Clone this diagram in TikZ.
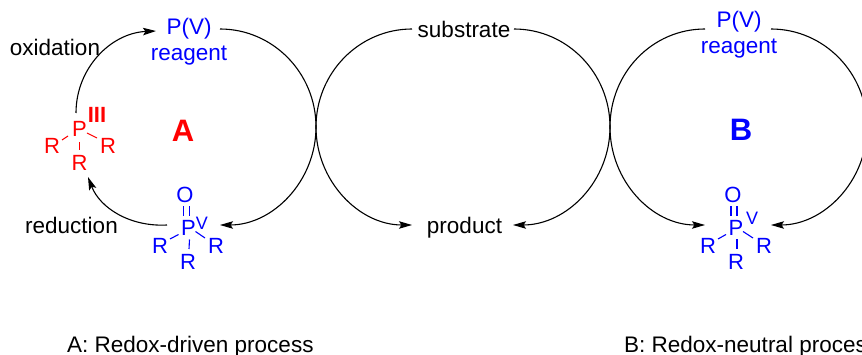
\documentclass[tikz,border=0pt]{standalone}
\usepackage{fontspec}
\setmainfont{Liberation Sans}
\usetikzlibrary{arrows.meta}
\definecolor{rblue}{RGB}{0,0,255}
\definecolor{rred}{RGB}{255,0,0}
\tikzset{
  lbl/.style={inner sep=0pt,anchor=base,font=\fontsize{22.5}{24}\selectfont},
  atom/.style={inner sep=0pt,anchor=base,font=\fontsize{22}{24}\selectfont},
  supv/.style={inner sep=0pt,anchor=base,font=\fontsize{18}{20}\selectfont},
  big/.style={inner sep=0pt,anchor=base,font=\fontsize{31}{33}\selectfont\bfseries},
  cyc/.style={line width=1.1pt,black},
  cyctip/.style={cyc,-{Stealth[length=13pt,width=7.5pt,inset=2.5pt]}},
  bond/.style={line width=1.1pt}
}
\begin{document}
\begin{tikzpicture}[x=1pt,y=-1pt]
\useasboundingbox (0,0) rectangle (862,355);
\clip (0,0) rectangle (862,355);
% Cycle A labels
\node[lbl,text=rblue] (pvA) at (189,35) {P(V)};
\node[lbl,text=rblue] (rgA) at (189,61) {reagent};
\node[lbl] (ox) at (55,56) {oxidation};
\node[lbl] (red) at (71.5,234) {reduction};
\node[big,text=rred] (lA) at (183,142) {A};
% P(III)
\node[atom,text=rred] (p3) at (79.5,137) {P};
\node[atom,text=rred] (r3l) at (52,153.5) {R};
\node[atom,text=rred] (r3r) at (108,153.5) {R};
\node[atom,text=rred] (r3b) at (79.5,170.5) {R};
\node[inner sep=0pt,anchor=base,text=rred,font=\fontsize{22}{24}\selectfont\bfseries] (iii) at (97,123) {III};
\draw[bond,rred] ([shift={(10,-13.5)}]r3l.base) -- ([shift={(-11.5,-1)}]p3.base);
\draw[bond,rred] ([shift={(7.5,-4)}]p3.base) -- ([shift={(-11,-15.5)}]r3r.base);
\draw[bond,rred] ([shift={(0,5)}]p3.base) -- ([shift={(0,-20.5)}]r3b.base);
% P(V) oxide A
\node[atom,text=rblue] (oA) at (185,203) {O};
\node[atom,text=rblue] (pA) at (188.5,235.5) {P};
\node[supv,text=rblue] (vA) at (202,230) {V};
\node[atom,text=rblue] (rAl) at (160,253.5) {R};
\node[atom,text=rblue] (rAr) at (216,253.5) {R};
\node[atom,text=rblue] (rAb) at (188,269.5) {R};
% Middle
\node[lbl] (sub) at (464,38) {substrate};
\node[lbl] (prod) at (464.5,234) {product};
% Cycle B labels
\node[lbl,text=rblue] (pvB) at (739,28) {P(V)};
\node[lbl,text=rblue] (rgB) at (739,54) {reagent};
\node[big,text=rblue] (lB) at (741,141) {B};
\node[atom,text=rblue] (oB) at (733,203) {O};
\node[atom,text=rblue] (pB) at (736,235.5) {P};
\node[supv,text=rblue] (vB) at (752,225) {V};
\node[atom,text=rblue] (rBl) at (708,253.5) {R};
\node[atom,text=rblue] (rBr) at (764,253.5) {R};
\node[atom,text=rblue] (rBb) at (736,269.5) {R};
% captions
\node[lbl,anchor=base west] (capA) at (67,352.5) {A: Redox-driven process};
\node[lbl,anchor=base west] (capB) at (624,352.5) {B: Redox-neutral process};
% bonds of the two P=O units
\foreach \pp/\ll/\rr/\bb in {pA/rAl/rAr/rAb,pB/rBl/rBr/rBb}{
  \draw[bond,rblue] ([shift={(-5,-29)}]\pp.base) -- ([shift={(-5,-19)}]\pp.base);
  \draw[bond,rblue] ([shift={(1,-29)}]\pp.base) -- ([shift={(1,-19)}]\pp.base);
  \draw[bond,rblue] ([shift={(10,-14.5)}]\ll.base) -- ([shift={(-10,-1)}]\pp.base);
  \draw[bond,rblue] ([shift={(7,-4)}]\pp.base) -- ([shift={(-11,-15.5)}]\rr.base);
  \draw[bond,rblue] ([shift={(1,4)}]\pp.base) -- ([shift={(1,-20.5)}]\bb.base);
}
% connectors
\coordinate (t1) at (316,127);
\coordinate (t2) at (610,127);
\coordinate (t3) at (867,127);
\draw[cyc] ([shift={(31,-6)}]pvA.base) .. controls +(53,0) and (316,73) .. (t1);
\draw[cyctip] (t1) .. controls (316,181) and (273,225) .. ([shift={(31.5,-10.5)}]pA.base);
\draw[cyctip] ([shift={(-3.5,-24)}]p3.base) .. controls (76,68) and (111,33) .. ([shift={(-33,-4)}]pvA.base);
\draw[cyctip] ([shift={(-21.5,-10.5)}]pA.base) .. controls (130,227) and (100,208) .. ([shift={(8.5,6.5)}]r3b.base);
\draw[cyc] ([shift={(-52,-9)}]sub.base) .. controls +(-53,0) and (316,73) .. (t1);
\draw[cyctip] (t1) .. controls (316,181) and (359,225) .. ([shift={(-52.5,-9)}]prod.base);
\draw[cyc] ([shift={(50,-9)}]sub.base) .. controls +(53,0) and (610,73) .. (t2);
\draw[cyctip] (t2) .. controls (610,181) and (567,225) .. ([shift={(48.5,-9)}]prod.base);
\draw[cyc] ([shift={(-34,1)}]pvB.base) .. controls +(-53,0) and (610,73) .. (t2);
\draw[cyctip] (t2) .. controls (610,181) and (652,225) .. ([shift={(-31,-10.5)}]pB.base);
\draw[cyc] ([shift={(32,1)}]pvB.base) .. controls +(53,0) and (867,73) .. (t3);
\draw[cyctip] (t3) .. controls (867,181) and (824,225) .. ([shift={(35,-10.5)}]pB.base);
\end{tikzpicture}
\end{document}
